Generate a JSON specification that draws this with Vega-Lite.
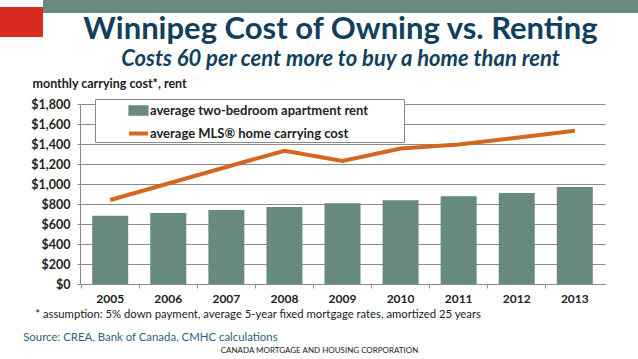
{
  "$schema": "https://vega.github.io/schema/vega-lite/v6.json",
  "width": 525,
  "height": 180,
  "autosize": {"type": "none"},
  "padding": {"left": 80, "top": 104, "right": 33, "bottom": 75},
  "background": "white",
  "config": {
    "font": "Lato",
    "view": {"stroke": null},
    "axisY": {
      "titleAngle": 0,
      "titleAlign": "left",
      "titleBaseline": "alphabetic",
      "titleX": -48,
      "titleY": -17,
      "titleFont": "Lato",
      "titleFontSize": 12.5,
      "titleFontWeight": "bold",
      "titleColor": "#222222",
      "labelOverlap": false,
      "labelFont": "Lato",
      "labelFontSize": 12.5,
      "labelFontWeight": "bold",
      "labelColor": "#222222",
      "labelPadding": 7,
      "tickSize": 3,
      "tickColor": "#8a8a8a",
      "domainColor": "#8a8a8a",
      "grid": true,
      "gridColor": "#8c8c8c",
      "gridOpacity": 1
    }
  },
  "title": {
    "text": "Winnipeg Cost of Owning vs. Renting",
    "subtitle": "Costs 60 per cent more to buy a home than rent",
    "anchor": "middle",
    "frame": "group",
    "dx": -2,
    "font": "Lato",
    "fontSize": 31,
    "fontWeight": "bold",
    "color": "#133f5e",
    "subtitleFont": "Lato",
    "subtitleFontSize": 22,
    "subtitleFontStyle": "italic",
    "subtitleFontWeight": "bold",
    "subtitleColor": "#133f5e",
    "subtitlePadding": 3,
    "offset": -71
  },
  "datasets": {
    "costs": [
      {"year": "2005", "rent": 683, "own": 840},
      {"year": "2006", "rent": 710, "own": 1005},
      {"year": "2007", "rent": 740, "own": 1170},
      {"year": "2008", "rent": 770, "own": 1333},
      {"year": "2009", "rent": 807, "own": 1230},
      {"year": "2010", "rent": 837, "own": 1355},
      {"year": "2011", "rent": 877, "own": 1395},
      {"year": "2012", "rent": 910, "own": 1462},
      {"year": "2013", "rent": 970, "own": 1533}
    ]
  },
  "layer": [
    {
      "data": {"values": [{"part": "header"}]},
      "mark": {"type": "rect", "color": "#6b8a7f"},
      "encoding": {"x": {"value": -37}, "x2": {"value": 558}, "y": {"value": -104}, "y2": {"value": -91}}
    },
    {
      "data": {"values": [{"part": "corner"}]},
      "mark": {"type": "rect", "color": "#d92b1f"},
      "encoding": {"x": {"value": -80}, "x2": {"value": -37}, "y": {"value": -97}, "y2": {"value": -67}}
    },
    {
      "data": {"name": "costs"},
      "mark": {"type": "bar"},
      "encoding": {
        "x": {
          "field": "year",
          "type": "nominal",
          "scale": {"paddingInner": 0.38, "paddingOuter": 0.21},
          "axis": {
            "title": null,
            "labelAngle": 0,
            "labelFont": "Lato",
            "labelFontSize": 12,
            "labelFontWeight": "bold",
            "labelColor": "#222222",
            "labelPadding": 5,
            "tickSize": 4,
            "tickColor": "#8a8a8a",
            "domainColor": "#8a8a8a",
            "bandPosition": -0.306,
            "grid": false
          }
        },
        "y": {
          "field": "rent",
          "type": "quantitative",
          "scale": {"domain": [0, 1800], "nice": false},
          "axis": {
            "title": "monthly carrying cost*, rent",
            "format": "$,.0f",
            "values": [0, 200, 400, 600, 800, 1000, 1200, 1400, 1600, 1800]
          }
        },
        "color": {
          "datum": "average two-bedroom apartment rent",
          "type": "nominal",
          "scale": {
            "domain": ["average two-bedroom apartment rent", "average MLS® home carrying cost"],
            "range": ["#688a7e", "#d2671d"]
          },
          "legend": {
            "orient": "none",
            "legendX": 15,
            "legendY": -5,
            "title": " ",
            "titleOrient": "right",
            "titlePadding": 36,
            "fillColor": "white",
            "strokeColor": "#8a8a8a",
            "padding": 0,
            "symbolOffset": 32,
            "symbolSize": 361,
            "rowPadding": 0,
            "labelOffset": 0,
            "labelLimit": 400,
            "labelFont": "Lato",
            "labelFontSize": 13,
            "labelFontWeight": "bold",
            "labelColor": "#222222",
            "encode": {
              "symbols": {
                "update": {
                  "shape": {"signal": "datum.value === 'average MLS® home carrying cost' ? 'stroke' : 'M-0.85,-0.33H0.85V0.33H-0.85Z'"},
                  "fill": {"signal": "datum.value === 'average MLS® home carrying cost' ? 'transparent' : '#688a7e'"},
                  "stroke": {"signal": "datum.value === 'average MLS® home carrying cost' ? '#d2671d' : 'transparent'"},
                  "strokeWidth": {"value": 4},
                  "opacity": {"value": 1}
                }
              }
            }
          }
        }
      }
    },
    {
      "data": {"name": "costs"},
      "mark": {"type": "line", "strokeWidth": 4},
      "encoding": {
        "x": {"field": "year", "type": "nominal"},
        "y": {
          "field": "own",
          "type": "quantitative",
          "axis": {
            "title": "monthly carrying cost*, rent",
            "format": "$,.0f",
            "values": [0, 200, 400, 600, 800, 1000, 1200, 1400, 1600, 1800]
          }
        },
        "color": {"datum": "average MLS® home carrying cost", "type": "nominal"}
      }
    },
    {
      "data": {"values": [{"note": "* assumption: 5% down payment, average 5-year fixed mortgage rates, amortized 25 years"}]},
      "mark": {"type": "text", "align": "left", "baseline": "alphabetic", "dx": -75, "fontSize": 11.3, "color": "#222222", "font": "Lato"},
      "encoding": {
        "x": {"datum": "2005", "type": "nominal"},
        "y": {"datum": -340, "type": "quantitative", "axis": {"title": "monthly carrying cost*, rent", "format": "$,.0f", "values": [0, 200, 400, 600, 800, 1000, 1200, 1400, 1600, 1800]}},
        "text": {"field": "note"}
      }
    },
    {
      "data": {"values": [{"note": "Source:  CREA, Bank of Canada, CMHC calculations"}]},
      "mark": {"type": "text", "align": "left", "baseline": "alphabetic", "dx": -87, "fontSize": 11.4, "color": "#2e5f7e", "font": "Lato"},
      "encoding": {
        "x": {"datum": "2005", "type": "nominal"},
        "y": {"datum": -570, "type": "quantitative", "axis": {"title": "monthly carrying cost*, rent", "format": "$,.0f", "values": [0, 200, 400, 600, 800, 1000, 1200, 1400, 1600, 1800]}},
        "text": {"field": "note"}
      }
    },
    {
      "data": {"values": [{"note": "CANADA MORTGAGE AND HOUSING CORPORATION"}]},
      "mark": {"type": "text", "align": "center", "baseline": "alphabetic", "dx": -23, "fontSize": 8, "color": "#222222", "font": "Lato"},
      "encoding": {
        "x": {"datum": "2009", "type": "nominal"},
        "y": {"datum": -690, "type": "quantitative", "axis": {"title": "monthly carrying cost*, rent", "format": "$,.0f", "values": [0, 200, 400, 600, 800, 1000, 1200, 1400, 1600, 1800]}},
        "text": {"field": "note"}
      }
    }
  ]
}
